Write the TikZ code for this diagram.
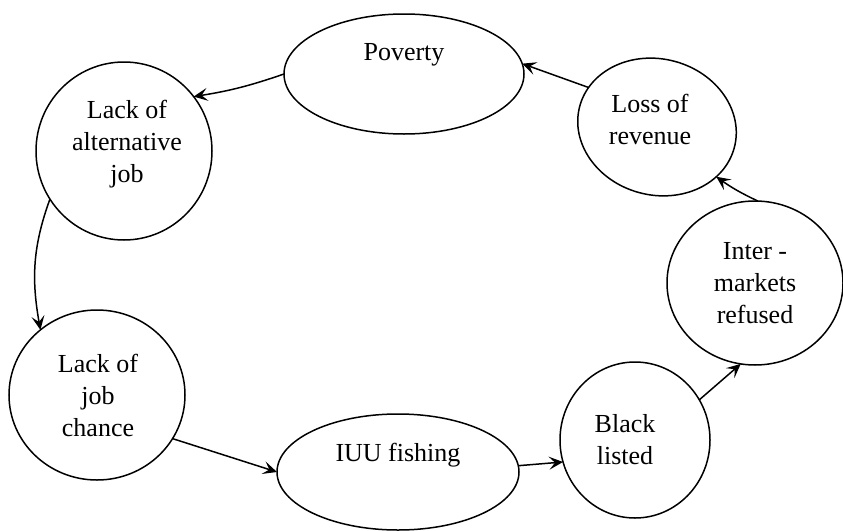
\documentclass[tikz,border=0pt]{standalone}
\usepackage{fontspec}
\setmainfont{Liberation Serif}
\usetikzlibrary{shapes.geometric,arrows.meta}
\begin{document}
\begin{tikzpicture}[x=1pt,y=-1pt,
  oval/.style={draw,ellipse,line width=1.5pt,inner sep=0pt,outer sep=0pt},
  lbl/.style={font=\fontsize{26}{32}\selectfont,align=center,inner sep=0pt},
  arr/.style={line width=1.5pt,-{Stealth[length=14pt,width=13pt,inset=6pt]}}]
\useasboundingbox (0,0) rectangle (843,530);
% ellipses
\node[oval,minimum width=240pt,minimum height=120pt] (pov) at (404,74) {};
\node[oval,minimum width=176pt,minimum height=178pt] (alt) at (124,151) {};
\node[oval,minimum width=176pt,minimum height=170pt] (cha) at (97,395) {};
\node[oval,minimum width=242pt,minimum height=116pt] (iuu) at (398,472) {};
\node[oval,minimum width=150pt,minimum height=156pt] (blk) at (635,440) {};
\node[oval,minimum width=176pt,minimum height=164pt] (int) at (755,283) {};
\node[oval,minimum width=160pt,minimum height=136pt,rotate=-15] (los) at (657,127) {};
% texts
\node[lbl] (tpov) at (404,55) {Poverty};
\node[lbl] (talt) at (127,144) {Lack of\\alternative\\job};
\node[lbl] (tcha) at (98,395) {Lack of\\job\\chance};
\node[lbl] (tiuu) at (398,455) {IUU fishing};
\node[lbl] (tblk) at (625,440) {Black\\listed};
\node[lbl] (tint) at (755,283) {Inter -\\markets\\refused};
\node[lbl] (tlos) at (650,119) {Loss of\\revenue};
% connectors
\draw[arr] (pov.180) to[bend left=5] (alt.38);
\draw[arr] (alt.213) to[out=250,in=100] (cha.131);
\draw[arr] (cha.330) -- (iuu.180);
\draw[arr] (iuu.3) -- (blk.197);
\draw[arr] (blk.32) -- (int.260);
\draw[arr] (int.88) to[bend left=5] (los.335);
\draw[arr] (los.165) -- (pov.5);
\end{tikzpicture}
\end{document}
